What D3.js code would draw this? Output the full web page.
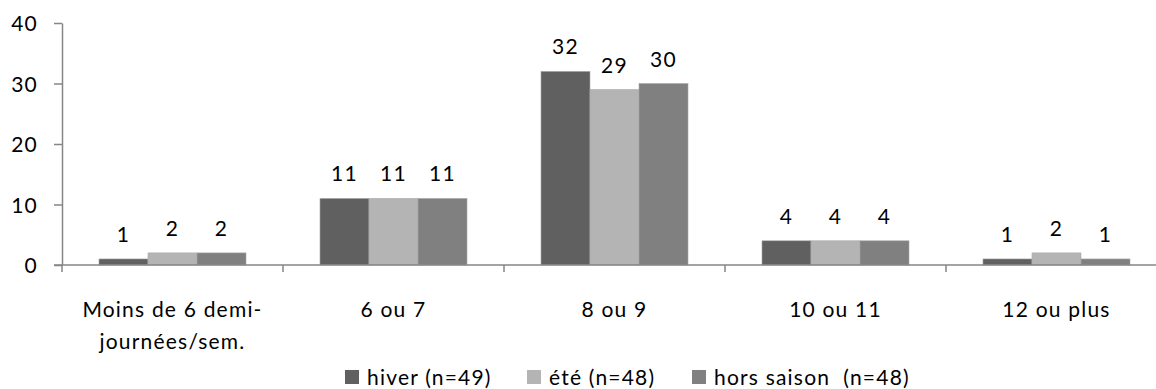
<!DOCTYPE html>
<html><head><meta charset="utf-8">
<script src="https://cdn.jsdelivr.net/npm/d3@7"></script>
<style>
body{margin:0;background:#fff;}
svg{display:block;font-family:Lato,"Open Sans",sans-serif;}
</style></head>
<body>
<svg id="chart" width="1156" height="389"></svg>
<script>
const categories = [["Moins de 6 demi-","journées/sem."],["6 ou 7"],["8 ou 9"],["10 ou 11"],["12 ou plus"]];
const seriesNames = ["hiver (n=49)","été (n=48)","hors saison  (n=48)"];
const hiver = [1, 11, 32, 4, 1];
const ete = [2, 11, 29, 4, 2];
const horsSaison = [2, 11, 30, 4, 1];
const yTicks = [0, 10, 20, 30, 40];
const colors = ["#606060", "#b4b4b4", "#808080"];

const values = [hiver, ete, horsSaison];
const svg = d3.select("#chart");
const fs = 21, ls = "1.2px";
const catIdx = d3.range(categories.length);

const x0 = d3.scaleBand().domain(catIdx).range([62, 62 + 221 * 5]).padding(0);
const x1 = d3.scaleBand().domain([0,1,2]).range([0, x0.bandwidth()]).paddingInner(0).paddingOuter(0.755);
const y = d3.scaleLinear().domain([0, 40]).range([265, 23]);

// bars
const g = svg.append("g");
catIdx.forEach(ci => {
  values.forEach((vals, si) => {
    g.append("rect")
      .attr("x", x0(ci) + x1(si))
      .attr("y", y(vals[ci]))
      .attr("width", x1.bandwidth())
      .attr("height", y(0) - y(vals[ci]))
      .attr("fill", colors[si])
      .attr("stroke", "#a8a8a8").attr("stroke-width", 0.6);
    g.append("text")
      .attr("x", x0(ci) + x1(si) + x1.bandwidth() / 2)
      .attr("y", y(vals[ci]) - 17)
      .attr("text-anchor", "middle")
      .attr("font-size", fs).attr("letter-spacing", ls)
      .attr("fill", "#000")
      .text(vals[ci]);
  });
});

// y axis
const yAxis = d3.axisLeft(y).tickValues(yTicks).tickSize(8).tickSizeOuter(0).tickPadding(16);
const ya = svg.append("g").attr("transform", "translate(62,0)").call(yAxis);
ya.select(".domain").attr("stroke", "#868686").attr("stroke-width", 1.5);
ya.selectAll(".tick line").attr("stroke", "#868686").attr("stroke-width", 1.5);
ya.selectAll(".tick text").attr("font-size", fs).attr("font-family", "Lato").attr("letter-spacing", ls).attr("fill", "#000").attr("dy", "0.36em");

// x axis
const xAxisLine = svg.append("g");
xAxisLine.append("line").attr("x1", 54).attr("x2", 1156).attr("y1", y(0)).attr("y2", y(0))
  .attr("stroke", "#868686").attr("stroke-width", 1.5);
const tickPositions = catIdx.map(ci => x0(ci)).concat([x0(4) + x0.bandwidth()]);
xAxisLine.selectAll("line.xt").data(tickPositions).enter().append("line")
  .attr("class", "xt")
  .attr("x1", d => d).attr("x2", d => d)
  .attr("y1", y(0)).attr("y2", y(0) + 7)
  .attr("stroke", "#868686").attr("stroke-width", 1.5);

// category labels
catIdx.forEach(ci => {
  const t = svg.append("text")
    .attr("x", x0(ci) + x0.bandwidth() / 2)
    .attr("y", 317)
    .attr("text-anchor", "middle")
    .attr("font-size", fs).attr("letter-spacing", ls).attr("fill", "#000");
  categories[ci].forEach((line, li) => {
    t.append("tspan").attr("x", x0(ci) + x0.bandwidth() / 2)
      .attr("dy", li === 0 ? 0 : 32).text(line);
  });
});

// legend
const legendX = [345, 527, 692];
seriesNames.forEach((name, si) => {
  svg.append("rect").attr("x", legendX[si]).attr("y", 370).attr("width", 14).attr("height", 14)
    .attr("fill", colors[si]);
  svg.append("text").attr("x", legendX[si] + 22).attr("y", 385)
    .attr("font-size", fs).attr("letter-spacing", ls).attr("fill", "#000")
    .style("white-space", "pre").text(name);
});
</script>
</body></html>
